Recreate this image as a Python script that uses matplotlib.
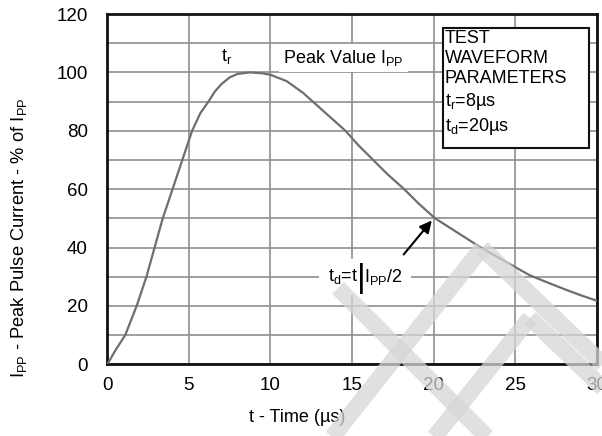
import matplotlib
matplotlib.use("Agg")
import matplotlib.pyplot as plt
from matplotlib.patches import Rectangle
from matplotlib.lines import Line2D
import numpy as np

plt.rcParams['font.family'] = ['Liberation Sans', 'DejaVu Sans']
plt.rcParams['mathtext.fontset'] = 'custom'
plt.rcParams['mathtext.rm'] = 'Liberation Sans'
plt.rcParams['mathtext.it'] = 'Liberation Sans:italic'

# waveform (time in us, current in % of Ipp)
t_us = [0, 0.5, 1.1, 1.8, 2.4, 2.9, 3.4, 4.0, 4.6, 5.2, 5.7, 6.2, 6.6, 7.0, 7.5, 8.0,
        8.75, 9.5, 10, 11, 12, 12.6, 13.5, 14.6, 15.4, 16.3, 17.2, 18.2, 19.1,
        20.1, 21.5, 22.9, 24, 25, 25.9, 27, 28, 29, 30]
i_pct = [0, 4.8, 10, 20, 30, 40, 50, 60, 70, 80, 86, 90, 93.5, 96, 98.3, 99.5,
         100, 99.7, 99.2, 97, 93, 90, 85.5, 80, 75, 70, 65, 60, 55,
         50, 45, 40, 36.5, 33.3, 30.5, 28, 25.8, 23.7, 21.8]

x_ticks = [0, 5, 10, 15, 20, 25, 30]
y_ticks = [0, 20, 40, 60, 80, 100, 120]
box_lines = ['TEST', 'WAVEFORM', 'PARAMETERS',
             r'$\mathregular{t_r}$=8µs', r'$\mathregular{t_d}$=20µs']

fig = plt.figure(figsize=(6.02, 4.36), dpi=100)
ax = fig.add_axes([0.1782, 0.1644, 0.813, 0.8034])

ax.plot(t_us, i_pct, color='#6e6e6e', lw=1.6, zorder=4)

ax.set_xlim(0, 30)
ax.set_ylim(0, 120)
ax.set_xticks(x_ticks)
ax.set_yticks(y_ticks)
ax.set_yticks(np.arange(0, 121, 10), minor=True)
ax.grid(True, which='both', color='#8f8f8f', lw=1.2)
ax.set_axisbelow(True)
ax.tick_params(which='both', length=0, labelsize=13.5)
ax.tick_params(axis='y', pad=14)
ax.tick_params(axis='x', pad=9)
for s in ax.spines.values():
    s.set_linewidth(2)
    s.set_color('#111111')

ax.set_xlabel('t - Time (µs)', fontsize=13)
ax.xaxis.set_label_coords(0.388, -0.127)
ax.set_ylabel(r'$\mathregular{I_{PP}}$ - Peak Pulse Current - % of $\mathregular{I_{PP}}$', fontsize=13.2)
ax.yaxis.set_label_coords(-0.160, 0.362)

white = dict(fc='white', ec='none', pad=3)
ax.text(7.34, 105.3, r'$\mathregular{t_r}$', fontsize=13, ha='center', va='center', zorder=5)
ax.text(10.77, 105, r'Peak Value $\mathregular{I_{PP}}$', fontsize=13, ha='left', va='center',
        bbox=white, zorder=5)

# test waveform parameter box
ax.add_patch(Rectangle((20.6, 74.2), 8.95, 41.1, fc='white', ec='#111111', lw=1.5, zorder=5))
ax.text(20.7, 114.6, '\n'.join(box_lines), fontsize=13, ha='left', va='top',
        linespacing=1.25, zorder=6)

# td annotation
ax.annotate('', xy=(20, 50), xytext=(18.06, 36.9),
            arrowprops=dict(arrowstyle='-|>', color='black', lw=1.5, mutation_scale=18), zorder=6)
ax.text(15.75, 30, r'$\mathregular{I_{PP}}$/2', fontsize=13, ha='left', va='center',
        bbox=dict(fc='white', ec='none', pad=6), zorder=5)
ax.text(13.5, 30, r'$\mathregular{t_d}$=t', fontsize=13, ha='left', va='center',
        bbox=dict(fc='white', ec='none', pad=6), zorder=6)
ax.text(15.56, 29.3, '|', fontsize=24, ha='center', va='center', zorder=7)

# faint watermark strokes (figure pixels, y from top)
marks = [((338, 288), (490, 440)), ((482, 248), (330, 440)), ((482, 248), (605, 366)),
         ((530, 318), (432, 440)), ((530, 318), (605, 390))]
for (x0, y0), (x1, y1) in marks:
    fig.add_artist(Line2D([x0 / 602, x1 / 602], [1 - y0 / 436, 1 - y1 / 436],
                          transform=fig.transFigure, color='#d6d6d6', alpha=0.75,
                          lw=12, solid_capstyle='butt', zorder=10))

fig.savefig('out.png', dpi=100)
